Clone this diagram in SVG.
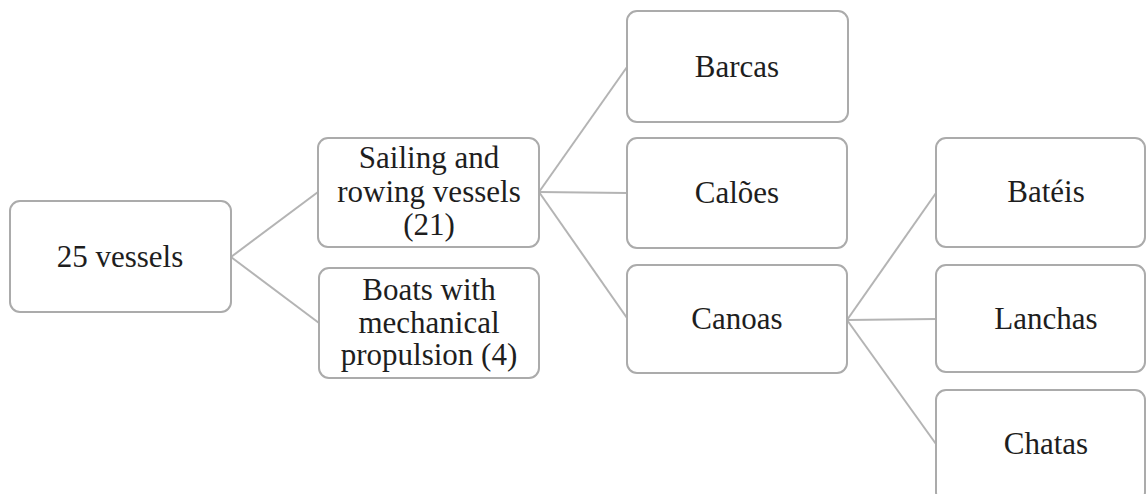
<svg xmlns="http://www.w3.org/2000/svg" width="1147" height="494" viewBox="0 0 1147 494">
<style>
.box{fill:#fff;stroke:#ababab;stroke-width:2}
.lbl{font-family:'Liberation Serif','Times New Roman',serif;font-size:31px;fill:#1e1e1e;text-anchor:middle}
.con{stroke:#b4b4b4;stroke-width:2;fill:none}
</style>
<rect width="1147" height="494" fill="#fff"/>
<g id="connectors">
<line class="con" x1="231" y1="257" x2="318" y2="192"/>
<line class="con" x1="231" y1="257" x2="319" y2="323"/>
<line class="con" x1="539" y1="192" x2="627" y2="67"/>
<line class="con" x1="539" y1="192" x2="627" y2="193"/>
<line class="con" x1="539" y1="192" x2="627" y2="318"/>
<line class="con" x1="847" y1="320" x2="936" y2="193"/>
<line class="con" x1="847" y1="320" x2="936" y2="319"/>
<line class="con" x1="847" y1="320" x2="936" y2="444"/>
</g>
<g id="n-25vessels">
<rect class="box" x="10" y="201" width="221" height="111" rx="10"/>
<text class="lbl" x="120" y="267">25 vessels</text>
</g>
<g id="n-sailing">
<rect class="box" x="318" y="138" width="221" height="109" rx="10"/>
<text class="lbl" x="429" y="168">Sailing and</text>
<text class="lbl" x="429" y="202">rowing vessels</text>
<text class="lbl" x="429" y="235">(21)</text>
</g>
<g id="n-boats">
<rect class="box" x="319" y="268" width="220" height="110" rx="10"/>
<text class="lbl" x="429" y="300">Boats with</text>
<text class="lbl" x="429" y="333">mechanical</text>
<text class="lbl" x="429" y="365">propulsion (4)</text>
</g>
<g id="n-barcas">
<rect class="box" x="627" y="11" width="221" height="111" rx="10"/>
<text class="lbl" x="737" y="77">Barcas</text>
</g>
<g id="n-caloes">
<rect class="box" x="627" y="138" width="220" height="110" rx="10"/>
<text class="lbl" x="737" y="203">Calões</text>
</g>
<g id="n-canoas">
<rect class="box" x="627" y="265" width="220" height="108" rx="10"/>
<text class="lbl" x="737" y="329">Canoas</text>
</g>
<g id="n-bateis">
<rect class="box" x="936" y="138" width="209" height="109" rx="10"/>
<text class="lbl" x="1046" y="202">Batéis</text>
</g>
<g id="n-lanchas">
<rect class="box" x="936" y="265" width="209" height="107" rx="10"/>
<text class="lbl" x="1046" y="329">Lanchas</text>
</g>
<g id="n-chatas">
<rect class="box" x="936" y="390" width="209" height="112" rx="10"/>
<text class="lbl" x="1046" y="454">Chatas</text>
</g>
</svg>
